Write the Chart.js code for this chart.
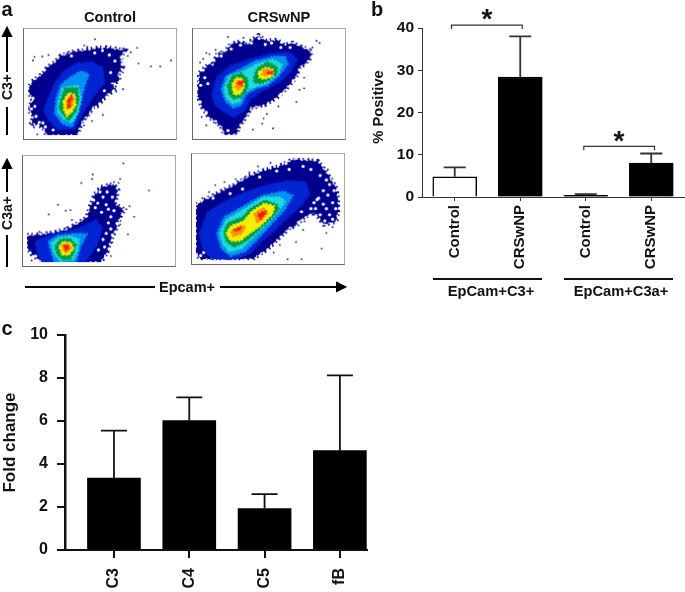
<!DOCTYPE html>
<html>
<head>
<meta charset="utf-8">
<script src="https://cdn.jsdelivr.net/npm/chart.js@4/dist/chart.umd.min.js"></script>
<style>
  html, body { margin: 0; padding: 0; background: #fff; }
  body { position: relative; width: 685px; height: 592px; overflow: hidden; font-family: "Liberation Sans", sans-serif; color: #111; }
  canvas { position: absolute; display: block; }
  .plot { border: 1px solid #a8a8a8; border-left-color: #666; border-bottom-color: #666; filter: blur(0.45px); }
  .txt { position: absolute; font-weight: bold; font-size: 14.7px; white-space: nowrap; transform: translate(-50%, -50%); }
  .up { transform: translate(-50%, -50%) rotate(-90deg); }
  .rule { position: absolute; background: #111; }
  svg { position: absolute; left: 0; top: 0; }
</style>
</head>
<body>
<canvas id="plotA" class="plot" width="154" height="112" style="left:23px;top:28px"></canvas>
<canvas id="plotB" class="plot" width="154" height="112" style="left:192px;top:28px"></canvas>
<canvas id="plotC" class="plot" width="154" height="112" style="left:22px;top:155px"></canvas>
<canvas id="plotD" class="plot" width="154" height="112" style="left:191px;top:153px"></canvas>
<canvas id="chartB" width="325" height="300" style="left:360px;top:0"></canvas>
<canvas id="chartC" width="385" height="272" style="left:0;top:320px"></canvas>

<svg width="685" height="592">
  <g stroke="#000" stroke-width="2" fill="#000">
    <line x1="25" y1="287" x2="155" y2="287"/>
    <line x1="220" y1="287" x2="338" y2="287"/>
    <path d="M337 283 L345 287 L337 291 Z"/>
    <line x1="7" y1="34" x2="7" y2="72"/>
    <line x1="7" y1="107" x2="7" y2="135"/>
    <path d="M3 36 L7 28 L11 36 Z"/>
    <line x1="7" y1="166" x2="7" y2="192"/>
    <line x1="7" y1="235" x2="7" y2="267"/>
    <path d="M3 168 L7 160 L11 168 Z"/>
  </g>
</svg>

<div class="txt" style="left:7px;top:9px;font-size:20px">a</div>
<div class="txt" style="left:377px;top:9px;font-size:20px">b</div>
<div class="txt" style="left:7px;top:328px;font-size:20px">c</div>
<div class="txt" style="left:110px;top:17px">Control</div>
<div class="txt" style="left:279px;top:17px">CRSwNP</div>
<div class="txt up" style="left:7px;top:87px;font-size:14px">C3+</div>
<div class="txt up" style="left:7px;top:213px;font-size:14px">C3a+</div>
<div class="txt" style="left:187px;top:287px;font-size:14.5px">Epcam+</div>
<div class="txt" style="left:487px;top:19px;font-size:28px">*</div>
<div class="txt" style="left:619px;top:141px;font-size:28px">*</div>
<div class="txt up" style="left:378px;top:107px">% Positive</div>
<div class="rule" style="left:433px;top:278px;width:109px;height:1.5px"></div>
<div class="rule" style="left:564px;top:278px;width:109px;height:1.5px"></div>
<div class="txt" style="left:491px;top:291px">EpCam+C3+</div>
<div class="txt" style="left:621px;top:291px">EpCam+C3a+</div>

<script>
// panel b
const bCategories = ['Control', 'CRSwNP', 'Control', 'CRSwNP'];
const bValues = [4.8, 28.4, 0.4, 8.0];
const bErrorTops = [7.0, 38.0, 0.7, 10.3];
const bBars = ['#fff', '#000', '#000', '#000'];
// bracket ends in category units, height in % positive
const bBrackets = [[-0.05, 1.03, 40.7], [1.97, 3.05, 12.0]];

// panel c
const cCategories = ['C3', 'C4', 'C5', 'fB'];
const cValues = [3.35, 6.02, 1.93, 4.62];
const cErrorTops = [5.55, 7.1, 2.6, 8.12];

// density plots, x and y in arbitrary channel units 0-464 / 0-338
// each polygon is one density level outline
const densityColors = ['#00008e', '#0024d2', '#0090f0', '#20dcd8', '#009a48', '#f0f000', '#ff9000', '#f02000'];

const controlC3Levels = [0, 1, 2, 3, 4, 5, 6, 7];
const controlC3 = [
  [[0,150],[12,175],[30,190],[50,205],[62,225],[85,240],[105,262],[130,270],[150,278],[185,280],[215,287],[250,290],[285,285],[312,280],[300,262],[298,240],[305,225],[290,205],[295,180],[270,170],[285,150],[255,135],[235,110],[210,92],[195,70],[175,45],[165,20],[160,0],[60,0],[50,22],[25,40],[8,30],[18,65],[0,85],[15,115]],
  [[66,122],[86,172],[116,212],[156,237],[206,242],[241,222],[246,172],[206,122],[176,72],[151,22],[96,17],[66,52],[51,82]],
  [[91,122],[106,167],[136,192],[171,212],[196,202],[181,157],[171,112],[156,62],[141,27],[111,37],[86,72]],
  [[98,112],[111,157],[161,164],[171,122],[161,72],[141,42],[116,52],[96,77]],
  [[106,117],[118,155],[159,157],[164,117],[154,77],[131,47],[114,67],[101,87]],
  [[114,112],[131,140],[151,134],[154,100],[141,77],[126,62],[116,82]],
  [[124,112],[141,134],[148,117],[141,94],[126,87]],
  [[130,118],[140,130],[143,120],[134,108],[138,92],[128,92]]
];
const controlC3Specks = [[216,317],[181,297],[191,292],[126,272],[66,265],[46,260],[21,259],[306,287],[351,289],[331,274],[321,262],[356,237],[396,227],[426,227],[461,247],[306,207],[306,152],[241,67],[206,47],[181,32],[191,62],[226,92],[16,247],[30,2],[20,25]];
const controlC3Gaps = [[26,62],[11,87],[56,27],[36,42],[16,122],[81,17],[266,207],[276,147],[246,147],[301,257],[140,262],[215,272],[40,18],[22,95],[30,28],[48,40],[280,245],[262,265],[240,280]];

const crsC3Levels = [0, 1, 2, 3, 4, 4, 5, 5, 6, 6, 7, 7];
const crsC3 = [
  [[0,130],[8,205],[38,235],[52,232],[68,275],[88,270],[108,300],[138,310],[160,300],[198,330],[222,312],[258,315],[280,298],[308,305],[363,280],[368,260],[348,235],[330,225],[318,190],[288,155],[258,125],[218,100],[173,90],[158,60],[133,25],[128,2],[88,2],[78,30],[38,60],[18,90]],
  [[48,130],[63,190],[108,230],[168,250],[238,270],[298,275],[323,250],[298,205],[258,170],[208,145],[173,120],[153,80],[118,60],[83,80],[58,100]],
  [[78,150],[93,195],[143,220],[188,245],[248,260],[283,260],[293,235],[263,195],[228,165],[193,155],[158,135],[143,100],[118,90],[93,110]],
  [[88,155],[103,195],[148,210],[193,235],[243,250],[273,235],[263,205],[223,170],[188,160],[153,145],[138,110],[113,105],[93,125]],
  [[98,165],[113,195],[143,205],[163,185],[163,155],[143,125],[118,120],[103,135]],
  [[183,190],[193,220],[228,242],[258,225],[258,205],[228,180],[203,170],[183,175]],
  [[113,170],[128,190],[148,185],[153,160],[138,135],[118,135]],
  [[198,210],[223,225],[248,215],[243,195],[218,185],[200,190]],
  [[128,180],[148,180],[150,165],[133,148],[123,160]],
  [[213,215],[228,220],[243,208],[223,195],[210,200]],
  [[133,177],[148,177],[143,165],[133,170]],
  [[228,210],[246,210],[240,202],[228,204]]
];
const crsC3Specks = [[385,312],[395,305],[372,290],[30,272],[40,268],[20,252],[10,240],[60,282],[345,190],[330,150],[345,155],[320,110],[262,95],[225,70],[215,55],[245,22],[210,38],[180,18],[60,40],[30,32],[15,60],[100,325],[150,322]];
const crsC3Gaps = [[20,215],[35,170],[50,250],[78,262],[110,285],[10,110],[30,75],[60,45],[240,305],[200,320],[300,290],[340,215],[310,180],[270,135],[185,75],[165,40],[100,15],[25,190],[12,165],[65,262],[140,298],[175,305],[220,300],[270,290]];

const controlC3aLevels = [0, 1, 2, 3, 4, 5, 6, 7];
const controlC3a = [
  [[0,88],[38,91],[88,98],[128,108],[163,128],[193,148],[203,183],[218,223],[238,248],[278,258],[293,238],[283,193],[313,173],[303,158],[288,113],[268,68],[258,33],[238,0],[158,0],[48,0],[18,23],[0,48]],
  [[28,68],[78,91],[138,103],[178,118],[223,138],[243,113],[228,63],[203,23],[188,0],[48,0],[33,33]],
  [[68,68],[98,88],[158,95],[193,93],[173,53],[158,0],[88,0],[78,33]],
  [[78,63],[103,81],[143,85],[168,75],[163,38],[150,8],[108,3],[88,28]],
  [[90,53],[108,75],[138,78],[158,58],[150,28],[138,8],[113,8],[96,28]],
  [[103,53],[118,68],[143,63],[150,43],[133,23],[113,25]],
  [[113,58],[133,61],[143,48],[128,31],[116,41]],
  [[118,55],[130,55],[136,45],[126,38]]
];
const controlC3aSpecks = [[310,327],[212,290],[210,275],[300,275],[295,262],[280,265],[265,255],[175,262],[100,190],[70,158],[125,170],[140,172],[145,140],[128,115],[393,237],[345,150],[325,92],[320,175],[330,185],[300,125],[275,65],[270,20],[40,100],[15,5]];
const controlC3aGaps = [[10,30],[28,20],[35,5],[230,40],[245,75],[262,130],[270,150],[245,215],[255,190],[275,215],[228,195],[290,128],[255,95],[275,90],[220,180],[240,165],[262,175],[280,170],[235,232],[258,232],[215,205],[270,110],[250,50]];

const crsC3aLevels = [0, 1, 2, 3, 4, 5, 6, 6, 7, 7];
const crsC3a = [
  [[0,183],[27,198],[72,223],[122,248],[172,278],[222,298],[262,308],[312,333],[392,328],[422,288],[452,238],[460,178],[452,128],[412,118],[382,158],[342,138],[322,113],[302,108],[262,68],[232,38],[182,3],[12,3],[0,28]],
  [[12,88],[37,158],[82,188],[152,223],[212,243],[292,263],[352,258],[367,218],[332,173],[292,138],[252,98],[212,63],[177,23],[132,3],[52,3],[22,38]],
  [[67,88],[92,143],[152,178],[212,213],[282,228],[312,213],[287,168],[242,118],[197,68],[157,28],[112,13],[82,38]],
  [[77,88],[97,133],[162,173],[217,208],[272,208],[287,193],[262,158],[222,113],[182,73],[147,38],[107,28],[87,53]],
  [[90,93],[102,123],[152,143],[172,168],[222,198],[262,183],[267,168],[237,133],[202,98],[162,63],[122,43],[97,63]],
  [[97,88],[112,113],[152,128],[182,163],[222,188],[252,178],[247,153],[207,113],[172,88],[142,63],[112,63]],
  [[112,93],[142,113],[160,113],[147,88],[122,78]],
  [[187,153],[217,173],[232,158],[212,133],[197,123]],
  [[120,100],[147,110],[142,102],[127,96]],
  [[200,153],[227,163],[222,153],[210,136],[202,143]]
];
const crsC3aSpecks = [[62,248],[42,225],[20,205],[92,258],[128,268],[155,272],[172,290],[200,310],[240,322],[330,295],[400,315],[425,300],[445,200],[455,160],[440,110],[420,90],[405,135],[350,128],[345,100],[322,60],[270,50],[250,25],[295,3],[340,3],[405,38]];
const crsC3aGaps = [[380,190],[395,205],[370,170],[420,170],[440,190],[410,230],[430,250],[300,300],[260,295],[205,275],[150,235],[110,220],[55,205],[10,195],[330,125],[340,160],[15,15],[25,25],[290,320],[390,200],[410,185],[425,215],[445,230],[400,150],[430,150],[450,170],[385,170],[415,130],[440,135],[370,300],[345,310],[400,280],[420,265],[365,145]];

const densityOptions = {
  responsive: false,
  animation: false,
  events: [],
  layout: { padding: 0 },
  plugins: { legend: { display: false }, tooltip: { enabled: false } },
  scales: {
    x: { type: 'linear', min: 0, max: 464, display: false },
    y: { type: 'linear', min: 0, max: 338, display: false }
  }
};

function toPoints(pairs) {
  return pairs.map(function (p) { return { x: p[0], y: p[1] }; });
}

function drawDensity(id, polygons, levels, specks, gaps) {
  const datasets = [];
  polygons.forEach(function (poly, i) {
    const closed = toPoints(poly.concat([poly[0]]));
    const color = densityColors[levels[i]];
    // dashed own-colour outline roughens the contour edge
    datasets.push({
      data: closed,
      showLine: true,
      fill: 'shape',
      backgroundColor: color,
      borderColor: color,
      borderWidth: i === 0 ? 4.5 : 2,
      borderDash: i === 0 ? [2, 2.5, 1.5, 3.5] : [1.5, 2, 2.5, 1.5],
      pointRadius: 0
    });
    if (i === 0) {
      // white flecks where the outer cloud breaks up
      datasets.push({
        data: closed,
        showLine: true,
        borderColor: '#fff',
        borderWidth: 1.6,
        borderDash: [2, 3.5, 1.5, 6],
        pointRadius: 0
      });
      datasets.push({ data: toPoints(gaps), backgroundColor: '#fff', borderWidth: 0, pointRadius: 1.6 });
      datasets.push({ data: toPoints(specks), backgroundColor: densityColors[0], borderWidth: 0, pointRadius: 0.9 });
    }
  });
  // later polygons sit on top
  datasets.forEach(function (d, i) { d.order = -i; });
  new Chart(document.getElementById(id), { type: 'scatter', data: { datasets: datasets }, options: densityOptions });
}

drawDensity('plotA', controlC3, controlC3Levels, controlC3Specks, controlC3Gaps);
drawDensity('plotB', crsC3, crsC3Levels, crsC3Specks, crsC3Gaps);
drawDensity('plotC', controlC3a, controlC3aLevels, controlC3aSpecks, controlC3aGaps);
drawDensity('plotD', crsC3a, crsC3aLevels, crsC3aSpecks, crsC3aGaps);

// error bars and brackets for the bar charts
const barExtras = {
  id: 'barExtras',
  afterDatasetsDraw(chart, args, opts) {
    const ctx = chart.ctx;
    const xs = chart.scales.x;
    const ys = chart.scales.y;
    ctx.save();
    ctx.strokeStyle = opts.color;
    chart.getDatasetMeta(0).data.forEach(function (bar, i) {
      const top = ys.getPixelForValue(opts.tops[i]);
      ctx.lineWidth = opts.width;
      ctx.beginPath();
      ctx.moveTo(bar.x, bar.y);
      ctx.lineTo(bar.x, top);
      ctx.moveTo(bar.x - opts.cap, top);
      ctx.lineTo(bar.x + opts.cap, top);
      ctx.stroke();
    });
    (opts.brackets || []).forEach(function (b) {
      const y = ys.getPixelForValue(b[2]);
      const drop = 4;
      ctx.lineWidth = 1.2;
      ctx.beginPath();
      ctx.moveTo(xs.getPixelForValue(b[0]), y + drop);
      ctx.lineTo(xs.getPixelForValue(b[0]), y);
      ctx.lineTo(xs.getPixelForValue(b[1]), y);
      ctx.lineTo(xs.getPixelForValue(b[1]), y + drop);
      ctx.stroke();
    });
    ctx.restore();
  }
};

new Chart(document.getElementById('chartB'), {
  type: 'bar',
  plugins: [barExtras],
  data: {
    labels: bCategories,
    datasets: [{
      data: bValues,
      backgroundColor: bBars,
      borderColor: '#000',
      borderWidth: 1.5,
      barThickness: 44
    }]
  },
  options: {
    responsive: false,
    animation: false,
    events: [],
    layout: { padding: { top: 28, right: 1 } },
    plugins: {
      legend: { display: false },
      tooltip: { enabled: false },
      barExtras: { tops: bErrorTops, brackets: bBrackets, color: '#333', width: 1.8, cap: 11 }
    },
    scales: {
      x: {
        afterFit(s) { s.height = 103; },
        grid: { offset: false, drawOnChartArea: false, tickLength: 4, color: '#333', lineWidth: 1 },
        border: { color: '#333', width: 1 },
        ticks: { color: '#111', font: { family: 'Liberation Sans', size: 15, weight: 'bold' }, minRotation: 90, maxRotation: 90, autoSkip: false, padding: 4 }
      },
      y: {
        min: 0,
        max: 40,
        afterFit(s) { s.width = 62; },
        grid: { drawOnChartArea: false, tickLength: 4, color: '#333', lineWidth: 1 },
        border: { color: '#333', width: 1 },
        ticks: { stepSize: 10, color: '#111', font: { family: 'Liberation Sans', size: 15.5, weight: 'bold' }, padding: 4 }
      }
    }
  }
});

new Chart(document.getElementById('chartC'), {
  type: 'bar',
  plugins: [barExtras],
  data: {
    datasets: [{
      data: cValues.map(function (v, i) { return { x: i + 1, y: v }; }),
      backgroundColor: '#000',
      barThickness: 53
    }]
  },
  options: {
    responsive: false,
    animation: false,
    events: [],
    layout: { padding: { top: 15, right: 18 } },
    plugins: {
      legend: { display: false },
      tooltip: { enabled: false },
      barExtras: { tops: cErrorTops, color: '#111', width: 1.8, cap: 13 }
    },
    scales: {
      x: {
        type: 'linear',
        offset: false,
        min: 0.35,
        max: 4.36,
        afterFit(s) { s.height = 42; },
        grid: { offset: false, drawOnChartArea: false, tickLength: 8, color: '#111', lineWidth: 2 },
        border: { color: '#111', width: 2 },
        ticks: {
          stepSize: 1,
          includeBounds: false,
          color: '#111',
          font: { family: 'Liberation Sans', size: 16, weight: 'bold' },
          minRotation: 90,
          maxRotation: 90,
          autoSkip: false,
          padding: 10,
          callback(v) { return cCategories[v - 1]; }
        }
      },
      y: {
        min: 0,
        max: 10,
        // tick padding would otherwise push the top of the axis down
        afterFit(s) { s.width = 65; s.paddingTop = 0; },
        grid: { drawOnChartArea: false, tickLength: 8, color: '#111', lineWidth: 2 },
        border: { color: '#111', width: 2.5 },
        ticks: { stepSize: 2, color: '#111', font: { family: 'Liberation Sans', size: 16, weight: 'bold' }, padding: 9 },
        title: { display: true, text: 'Fold change', color: '#111', font: { family: 'Liberation Sans', size: 17, weight: 'bold' }, padding: { top: 0, bottom: 0 } }
      }
    }
  }
});
</script>
</body>
</html>
